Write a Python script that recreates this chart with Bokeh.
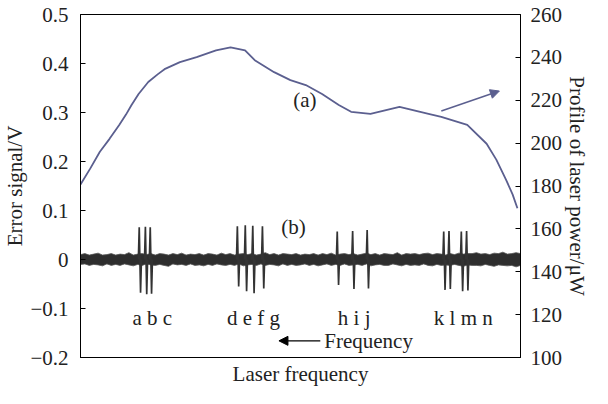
from bokeh.plotting import figure
from bokeh.models import Range1d, LinearAxis, FixedTicker, Label, Arrow, NormalHead, ColumnDataSource
from bokeh.core.properties import value
from bokeh.embed import file_html
from bokeh.resources import INLINE

FONT = "Liberation Serif"
FS = "21px"

# ---- data ----
err_ticks = [-0.2, -0.1, 0, 0.1, 0.2, 0.3, 0.4, 0.5]
err_tick_labels = ["\u22120.2", "\u22120.1", "0", "0.1", "0.2", "0.3", "0.4", "0.5"]
power_ticks = [100, 120, 140, 160, 180, 200, 220, 240, 260]

# (a) laser power profile (uW) vs relative frequency position
curve_x = [0, 2.2, 4.4, 6.6, 8.8, 10.3, 11.6, 13.2, 15.4, 17.6, 19.1, 22.6, 26.4, 30.8, 34.1,
           37.4, 39.6, 44.0, 47.7, 51.2, 54.9, 58.7, 61.5, 65.9, 72.5, 79.1, 82.0, 87.9,
           92.3, 94.5, 96.7, 98.2, 99.3]
curve_p = [180.7, 188.1, 196.0, 202.0, 208.5, 213.2, 217.8, 222.9, 228.5, 232.2, 234.5, 237.8,
           240.1, 243.3, 244.7, 243.3, 238.7, 233.1, 229.4, 227.1, 222.9, 217.8, 214.6, 213.6,
           216.9, 213.6, 212.2, 208.5, 199.7, 192.3, 183.0, 176.1, 169.6]

# (b) error signal: noise band envelope
noise_x = list(range(101))
noise_hi = [0.010, 0.012, 0.009, 0.011, 0.013, 0.009, 0.010, 0.012, 0.009, 0.011,
            0.010, 0.014, 0.009, 0.011, 0.012, 0.010, 0.012, 0.009, 0.012, 0.011,
            0.009, 0.012, 0.010, 0.013, 0.009, 0.011, 0.010, 0.012, 0.009, 0.012,
            0.011, 0.009, 0.013, 0.010, 0.012, 0.009, 0.011, 0.012, 0.010, 0.012,
            0.009, 0.011, 0.014, 0.010, 0.012, 0.009, 0.012, 0.011, 0.010, 0.012,
            0.009, 0.011, 0.010, 0.012, 0.009, 0.012, 0.010, 0.013, 0.009, 0.011,
            0.012, 0.010, 0.012, 0.009, 0.011, 0.013, 0.010, 0.012, 0.009, 0.012,
            0.011, 0.010, 0.014, 0.009, 0.012, 0.011, 0.012, 0.010, 0.012, 0.013,
            0.010, 0.012, 0.011, 0.009, 0.012, 0.010, 0.013, 0.011, 0.012, 0.012,
            0.014, 0.011, 0.012, 0.010, 0.013, 0.012, 0.015, 0.011, 0.012, 0.014, 0.012]
noise_lo = [-0.010, -0.009, -0.012, -0.010, -0.011, -0.013, -0.009, -0.012, -0.010, -0.012,
            -0.009, -0.011, -0.013, -0.010, -0.012, -0.009, -0.011, -0.012, -0.010, -0.012,
            -0.014, -0.009, -0.011, -0.010, -0.012, -0.009, -0.012, -0.011, -0.013, -0.010,
            -0.012, -0.009, -0.011, -0.012, -0.010, -0.012, -0.009, -0.013, -0.011, -0.010,
            -0.012, -0.009, -0.012, -0.010, -0.011, -0.013, -0.009, -0.012, -0.010, -0.012,
            -0.011, -0.009, -0.012, -0.010, -0.013, -0.011, -0.009, -0.012, -0.010, -0.012,
            -0.009, -0.012, -0.011, -0.010, -0.012, -0.009, -0.013, -0.011, -0.010, -0.012,
            -0.012, -0.009, -0.011, -0.013, -0.010, -0.012, -0.011, -0.012, -0.009, -0.012,
            -0.013, -0.010, -0.012, -0.011, -0.012, -0.010, -0.012, -0.014, -0.011, -0.012,
            -0.012, -0.013, -0.010, -0.012, -0.014, -0.011, -0.012, -0.013, -0.012, -0.015, -0.012]

# (b) resonances: centre, positive peak, negative peak
res_x = [13.5, 14.9, 16.0, 35.8, 37.6, 39.3, 41.5, 58.5, 62.0, 65.3, 82.7, 83.9, 86.7, 87.9]
res_up = [0.066, 0.067, 0.066, 0.068, 0.070, 0.069, 0.068, 0.057, 0.058, 0.060, 0.057, 0.058, 0.057, 0.058]
res_dn = [0.068, 0.071, 0.070, 0.055, 0.065, 0.069, 0.059, 0.052, 0.060, 0.059, 0.062, 0.060, 0.065, 0.063]

group_labels = ["a b c", "d e f g", "h i j", "k l m n"]
group_x = [16.3, 39.3, 62.2, 87.0]

CURVE_COLOR = "#5b5f8f"
TEXT_COLOR = "#222222"

p = figure(width=592, height=388, output_backend="svg", toolbar_location=None,
           x_range=Range1d(0, 100), y_range=Range1d(-0.2, 0.5),
           x_axis_location=None,
           min_border_left=72, min_border_right=65, min_border_top=14, min_border_bottom=29)
p.extra_y_ranges = {"power": Range1d(100, 260)}
p.grid.visible = False
p.outline_line_color = "black"
p.outline_line_width = 1
p.outline_line_alpha = 1
p.background_fill_color = "white"
p.border_fill_color = "white"

def style_axis(ax):
    ax.major_tick_in = 5
    ax.major_tick_out = 0
    ax.minor_tick_in = 0
    ax.minor_tick_out = 0
    ax.axis_line_color = "black"
    ax.major_tick_line_color = "black"
    ax.major_label_text_font = FONT
    ax.major_label_text_font_size = FS
    ax.major_label_text_color = TEXT_COLOR
    ax.axis_label_text_font = FONT
    ax.axis_label_text_font_size = FS
    ax.axis_label_text_font_style = "normal"
    ax.axis_label_text_color = TEXT_COLOR

lax = p.yaxis[0]
lax.ticker = FixedTicker(ticks=err_ticks)
lax.major_label_overrides = dict(zip(err_ticks, err_tick_labels))
lax.axis_label = "Error signal/V"
style_axis(lax)
lax.major_label_standoff = 12
lax.axis_label_standoff = 0

rax = LinearAxis(y_range_name="power", ticker=FixedTicker(ticks=power_ticks),
                 axis_label="Profile of laser power/\u03bcW")
style_axis(rax)
rax.major_label_standoff = 10
rax.axis_label_standoff = 0
p.add_layout(rax, "right")

bax = LinearAxis(ticker=FixedTicker(ticks=[]), axis_label="Laser frequency")
style_axis(bax)
bax.major_tick_in = 0
bax.major_label_text_font_size = "0px"
bax.major_label_standoff = 0
bax.axis_label_standoff = 4
p.add_layout(bax, "below")

# noise band
p.varea(x=noise_x, y1=noise_lo, y2=noise_hi, fill_color="#2e2e2e")
p.line(noise_x, noise_hi, line_color="#555555", line_width=0.8)
p.line(noise_x, noise_lo, line_color="#555555", line_width=0.8)

# resonances
xs, ys = [], []
for c, u, d in zip(res_x, res_up, res_dn):
    xs.append([c - 0.35, c - 0.15, c + 0.15, c + 0.35])
    ys.append([0, u, -d, 0])
p.multi_line(xs=xs, ys=ys, line_color="#333333", line_width=1.7)

# power curve
p.line(curve_x, curve_p, y_range_name="power", line_color=CURVE_COLOR, line_width=1.8,
       line_join="round")
p.add_layout(Arrow(end=NormalHead(size=9, fill_color=CURVE_COLOR, line_color=CURVE_COLOR),
                   x_start=82.0, y_start=215.0, x_end=95.2, y_end=224.3,
                   y_range_name="power", line_color=CURVE_COLOR, line_width=1.5))

src = ColumnDataSource(dict(x=group_x, y=[-0.12] * len(group_x), t=group_labels))
p.text(x="x", y="y", text="t", source=src, text_font=value(FONT), text_font_size=FS,
       text_align="center", text_baseline="middle", text_color=TEXT_COLOR)

p.add_layout(Label(x=51.0, y=220.1, y_range_name="power", text="(a)", text_font=FONT,
                   text_font_size=FS, text_align="center", text_baseline="middle",
                   text_color=TEXT_COLOR))
p.add_layout(Label(x=48.4, y=0.067, text="(b)", text_font=FONT, text_font_size=FS,
                   text_align="center", text_baseline="middle", text_color=TEXT_COLOR))

p.add_layout(Arrow(end=NormalHead(size=9, fill_color="black", line_color="black"),
                   x_start=54.5, y_start=-0.166, x_end=45.1, y_end=-0.166,
                   line_color="black", line_width=1.2))
p.add_layout(Label(x=55.4, y=-0.166, text="Frequency", text_font=FONT, text_font_size=FS,
                   text_align="left", text_baseline="middle", text_color=TEXT_COLOR))

open("out.html", "w").write(file_html(p, INLINE))
